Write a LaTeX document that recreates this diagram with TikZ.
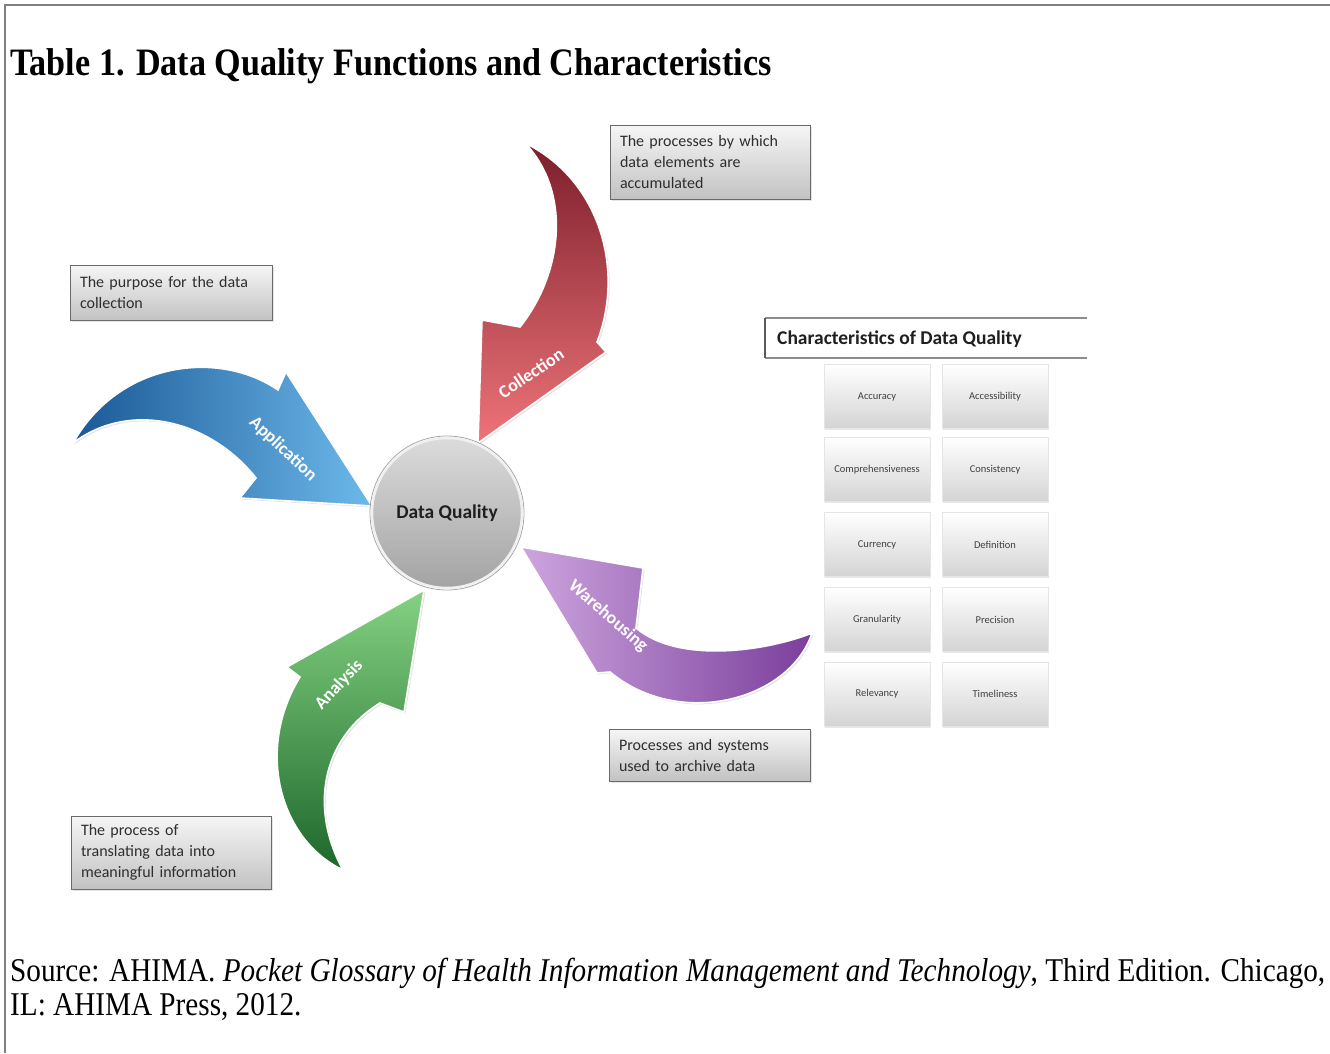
\documentclass[tikz,border=0pt]{standalone}
\usepackage{fontspec}
\newfontfamily\tnr{Liberation Serif}[FakeStretch=0.88]
\newfontfamily\calib{Carlito}
\usetikzlibrary{shadows}
\definecolor{framegray}{HTML}{808080}
\definecolor{redD}{HTML}{7C1E2B}
\definecolor{redL}{HTML}{EE7479}
\definecolor{blueD}{HTML}{1A5896}
\definecolor{blueL}{HTML}{6DB9EA}
\definecolor{purD}{HTML}{7A3E9C}
\definecolor{purL}{HTML}{CDA5DE}
\definecolor{grnD}{HTML}{1D672B}
\definecolor{grnL}{HTML}{84D282}
\definecolor{boxT}{HTML}{F6F6F6}
\definecolor{boxB}{HTML}{C2C2C2}
\definecolor{boxline}{HTML}{6A6A6A}
\definecolor{txtgray}{HTML}{2E2E2E}
\begin{document}
\begin{tikzpicture}[x=1pt,y=-1pt,
  arrowbase/.style={draw=white, line width=1.6pt,
    drop shadow={opacity=0.22, shadow xshift=1.5pt, shadow yshift=-1.5pt}},
  arrlabel/.style={text=white, font=\calib\bfseries\fontsize{18}{20}\selectfont, inner sep=0pt},
  callout/.style={rectangle, top color=boxT, bottom color=boxB, draw=boxline, line width=1pt,
    align=left, inner xsep=10pt, inner ysep=0pt, text=txtgray,
    font=\calib\fontsize{16}{21}\selectfont,
    drop shadow={opacity=0.2, shadow xshift=1.5pt, shadow yshift=-1.5pt}},
  tile/.style={rectangle, minimum width=106pt, minimum height=64pt, inner sep=0pt,
    top color=white, bottom color=black!17, draw=black!10, line width=0.6pt,
    text=black!75, font=\calib\fontsize{10.5}{12}\selectfont,
    drop shadow={opacity=0.18, shadow xshift=1pt, shadow yshift=-1.5pt}}
]
\useasboundingbox (0,0) rectangle (1330,1053);
\fill[white] (0,0) rectangle (1330,1053);
% frame
\draw[framegray, line width=2pt] (5,1053) -- (5,5) -- (1330,5);

% title
\node[anchor=base west, inner sep=0pt, font=\tnr\bfseries\fontsize{38.8}{44}\selectfont] (title) at (10,75)
  {Table 1. Data Quality Functions and Characteristics};

% arrows
\path[arrowbase, top color=redD, bottom color=redL]
  (525,143) .. controls (600,180) and (625,270) .. (597,342) -- (606,352) -- (478,443)
  -- (482,320) -- (520,327) .. controls (565,270) and (570,190) .. (525,143) -- cycle;
\path[arrowbase, left color=blueD, right color=blueL]
  (73,443) .. controls (120,360) and (220,350) .. (278,390) -- (286,372) -- (372,506)
  -- (240,498) -- (256,478) .. controls (210,420) and (130,400) .. (73,443) -- cycle;
\path[arrowbase, left color=purL, right color=purD]
  (812,633) .. controls (790,700) and (680,730) .. (610,672) -- (597,673) -- (521,547)
  -- (643,568) -- (636,628) .. controls (680,665) and (770,650) .. (812,633) -- cycle;
\path[arrowbase, top color=grnL, bottom color=grnD]
  (343,870) .. controls (310,810) and (320,740) .. (380,703) -- (404,712) -- (424,590)
  -- (287,667) -- (300,677) .. controls (255,750) and (280,840) .. (343,870) -- cycle;

\node[arrlabel, rotate=34] (lcol) at (531,373) {Collection};
\node[arrlabel, rotate=-43] (lapp) at (283,449) {Application};
\node[arrlabel, rotate=-41] (lwar) at (608,616) {Warehousing};
\node[arrlabel, rotate=47] (lana) at (339,685) {Analysis};

% central circle
\draw[black!35, line width=0.8pt] (447,513) circle (77pt);
\node[circle, minimum size=150pt, inner sep=0pt, top color=black!14, bottom color=black!36,
  draw=white!94!black, line width=2.5pt,
  font=\calib\bfseries\fontsize{19.5}{22}\selectfont, text=black!88] (dq) at (447,513) {Data Quality};

% callouts
\node[callout, minimum width=200pt, minimum height=74pt, text width=180pt] (ccol) at (710,162)
  {The processes by which\\data elements are\\accumulated};
\node[callout, minimum width=202pt, minimum height=55pt, text width=182pt] (capp) at (171,292.5)
  {The purpose for the data\\collection};
\node[callout, minimum width=201pt, minimum height=52pt, text width=181pt] (cwar) at (709.5,755)
  {Processes and systems\\used to archive data};
\node[callout, minimum width=200pt, minimum height=73pt, text width=180pt] (cana) at (171,852.5)
  {The process of\\translating data into\\meaningful information};

% characteristics header
\coordinate (h1) at (765,318);
\coordinate (h2) at (765,358);
\coordinate (h3) at (1087,318);
\coordinate (h4) at (1087,358);
\draw[black!45, line width=1.2pt] (h1) -- (h3);
\draw[black!45, line width=1.2pt] (h2) -- (h4);
\draw[black!65, line width=2pt] (h1) -- (h2);
\node[anchor=west, inner sep=0pt, font=\calib\bfseries\fontsize{19.5}{22}\selectfont, text=black!88]
  (hdr) at (777,339) {Characteristics of Data Quality};

% tiles
\node[tile] (t1) at (877,396.5) {Accuracy};
\node[tile] (t2) at (995,396.5) {Accessibility};
\node[tile] (t3) at (877,469.5) {Comprehensiveness};
\node[tile] (t4) at (995,469.5) {Consistency};
\node[tile] (t5) at (877,544.5) {Currency};
\node[tile] (t6) at (995,544.5) {Definition};
\node[tile] (t7) at (877,619.5) {Granularity};
\node[tile] (t8) at (995,619.5) {Precision};
\node[tile] (t9) at (877,694) {Relevancy};
\node[tile] (t10) at (995,694) {Timeliness};

% source
\node[anchor=base west, inner sep=0pt, font=\tnr\fontsize{33.2}{38}\selectfont] (src1) at (10,981)
  {Source: AHIMA. \textit{Pocket Glossary of Health Information Management and Technology}, Third Edition. Chicago,};
\node[anchor=base west, inner sep=0pt, font=\tnr\fontsize{33.2}{38}\selectfont] (src2) at (10,1015)
  {IL: AHIMA Press, 2012.};
\end{tikzpicture}
\end{document}
